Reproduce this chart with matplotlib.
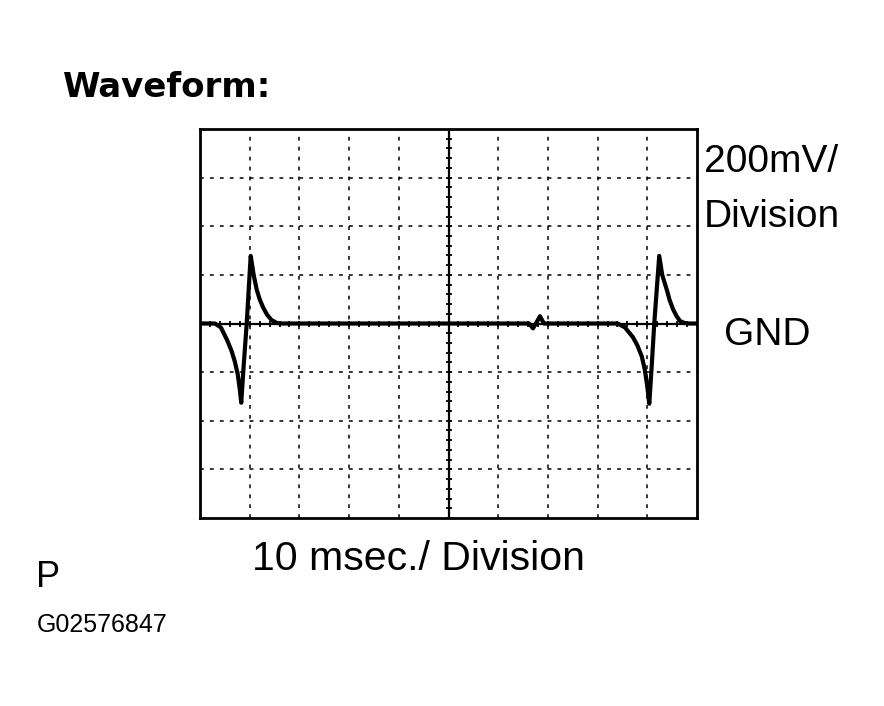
import matplotlib
matplotlib.use("Agg")
import matplotlib.pyplot as plt
import numpy as np

t_div = [0.0, 0.30, 0.42, 0.54, 0.63, 0.70, 0.76, 0.80, 0.83, 0.88, 0.94, 0.98, 1.02,
         1.08, 1.14, 1.20, 1.27, 1.35, 1.44, 1.55, 1.65,
         6.62, 6.70, 6.77, 6.84, 6.92,
         8.40, 8.55, 8.71, 8.80, 8.89, 8.95, 9.00, 9.04, 9.09, 9.14, 9.19, 9.24,
         9.30, 9.39, 9.45, 9.52, 9.59, 9.66, 9.75, 9.85, 10.0]
v_div = [0.0, 0.0, -0.08, -0.33, -0.55, -0.78, -1.05, -1.35, -1.63, -0.85, 0.0, 0.70, 1.39,
         1.00, 0.70, 0.50, 0.33, 0.18, 0.07, 0.01, 0.0,
         0.0, -0.10, 0.02, 0.15, 0.0,
         0.0, -0.08, -0.28, -0.45, -0.68, -0.95, -1.30, -1.65, -0.85, 0.0, 0.70, 1.39,
         1.00, 0.70, 0.48, 0.29, 0.15, 0.05, 0.01, 0.0, 0.0]

n_xdiv = 10
n_ydiv = 8

W, H = 884, 706
fig = plt.figure(figsize=(W / 100, H / 100), dpi=100)
fig.patch.set_facecolor("white")

# axes box in pixels
left, right, top, bottom = 200, 697, 129, 518
ax = fig.add_axes([left / W, 1 - bottom / H, (right - left) / W, (bottom - top) / H])
ax.set_xlim(0, n_xdiv)
ax.set_ylim(-n_ydiv / 2, n_ydiv / 2)
ax.set_xticks([])
ax.set_yticks([])
for s in ax.spines.values():
    s.set_linewidth(2.0)
    s.set_color("black")

# dashed grid
for gx in range(1, n_xdiv):
    if gx == n_xdiv // 2:
        continue
    ax.axvline(gx, color="black", lw=1.1, linestyle=(0, (2.5, 4)))
for gy in range(-n_ydiv // 2 + 1, n_ydiv // 2):
    if gy == 0:
        continue
    ax.axhline(gy, color="black", lw=1.1, linestyle=(0, (2.5, 4)))

# solid center lines with sub-division ticks
ax.axvline(n_xdiv / 2, color="black", lw=1.6)
ax.axhline(0, color="black", lw=1.6)
sub_y = np.arange(-n_ydiv / 2, n_ydiv / 2 + 1e-9, 0.2)
sub_x = np.arange(0, n_xdiv + 1e-9, 0.2)
ax.plot(np.full_like(sub_y, n_xdiv / 2), sub_y, linestyle="none", marker="_",
        color="black", markersize=5, markeredgewidth=1.3)
ax.plot(sub_x, np.zeros_like(sub_x), linestyle="none", marker="|",
        color="black", markersize=5, markeredgewidth=1.3)

# waveform trace
ax.plot(t_div, v_div, color="black", lw=3.0, solid_joinstyle="round", solid_capstyle="round")

def ftext(x, y, s, **kw):
    fig.text(x / W, 1 - y / H, s, ha="left", va="baseline", color="black", **kw)

ftext(63, 97, "Waveform:", fontsize=24.5, fontweight="bold", family="DejaVu Sans")
ftext(704, 172, "200mV/", fontsize=28, family="Liberation Sans")
ftext(704, 227, "Division", fontsize=28, family="Liberation Sans")
ftext(724, 345, "GND", fontsize=28, family="Liberation Sans")
ftext(252, 570, "10 msec./ Division", fontsize=29.5, family="Liberation Sans")
ftext(36, 587, "P", fontsize=26, family="Liberation Sans")
ftext(37, 632, "G02576847", fontsize=18, family="Liberation Sans")

fig.savefig("out.png", dpi=100, facecolor="white")
